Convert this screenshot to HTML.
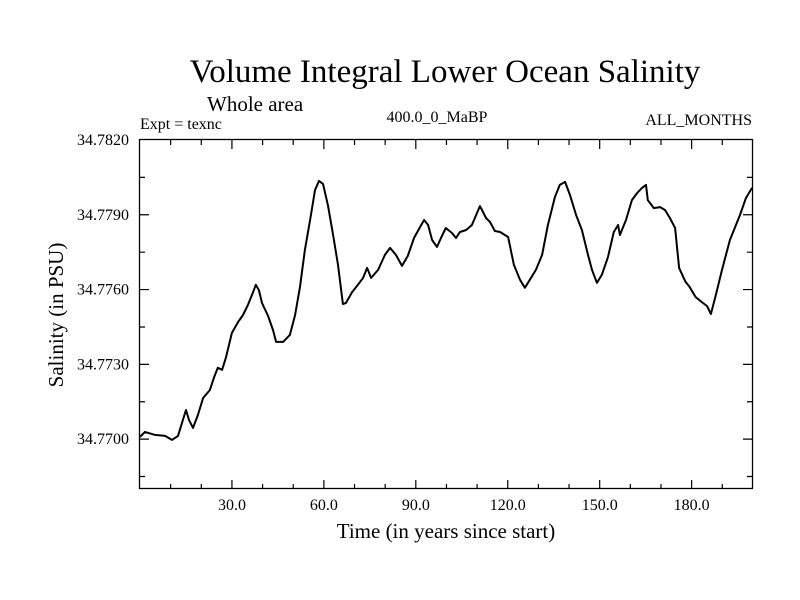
<!DOCTYPE html>
<html><head><meta charset="utf-8"><style>
body{margin:0;background:#fff}
svg{display:block;font-family:"Liberation Serif",serif}
</style></head><body>
<svg id="chart" width="800" height="600" viewBox="0 0 800 600">
<rect width="800" height="600" fill="#fff"/>
<text x="445" y="82" font-size="33" text-anchor="middle">Volume Integral Lower Ocean Salinity</text>
<text x="207" y="111" font-size="21">Whole area</text>
<text x="140" y="129" font-size="16">Expt = texnc</text>
<text x="437" y="122" font-size="16" text-anchor="middle">400.0_0_MaBP</text>
<text x="752" y="125" font-size="16" text-anchor="end">ALL_MONTHS</text>
<text x="446" y="538" font-size="21" text-anchor="middle">Time (in years since start)</text>
<text x="0" y="0" font-size="21" text-anchor="middle" transform="translate(63,315) rotate(-90)">Salinity (in PSU)</text>
<g id="ticks"></g>
<g id="labels"></g>
<rect x="139.5" y="139.5" width="613" height="349" fill="none" stroke="#000" stroke-width="1.3"/>
<path id="line" fill="none" stroke="#000" stroke-width="2" stroke-linejoin="round"/>
</svg>
<script>
const years=[0,1.6,4.9,8.2,10.4,12.4,14.0,15.0,16.0,17.3,18.9,20.6,22.8,24.1,25.4,26.8,28.1,30.0,32.0,33.6,35.2,36.9,37.8,38.8,39.8,41.8,43.4,44.4,46.7,48.9,50.6,52.2,53.8,55.5,57.1,58.4,59.7,61.3,63.0,64.6,66.2,67.2,69.2,71.1,72.8,74.1,75.4,77.7,79.9,81.6,83.5,85.5,87.4,89.4,91.4,92.7,94.0,95.3,96.9,98.5,99.8,101.8,103.1,104.4,106.4,108.3,110.9,111.6,112.9,114.2,115.8,117.5,120.1,122.0,124.0,125.6,127.2,129.2,131.2,133.1,135.4,137.0,138.7,140.3,142.3,144.2,146.2,147.5,149.1,150.7,152.7,154.6,156.0,156.6,158.6,160.5,162.2,163.8,165.1,165.7,167.7,169.7,171.3,172.9,174.6,175.9,178.0,179.3,181.3,183.3,185.0,186.3,187.9,189.9,192.5,195.8,197.7,199.7];
const salinity=[34.77009,34.77029,34.77017,34.77013,34.76997,34.77013,34.77077,34.77117,34.77077,34.77045,34.77097,34.77165,34.77197,34.77246,34.77286,34.77278,34.7733,34.77426,34.7747,34.77498,34.77538,34.7759,34.77619,34.77598,34.77546,34.77494,34.77438,34.7739,34.7739,34.77418,34.77498,34.77611,34.77759,34.77879,34.77999,34.78036,34.78024,34.77939,34.77819,34.77699,34.77542,34.77546,34.7759,34.77619,34.77647,34.77687,34.77647,34.77679,34.77739,34.77767,34.77739,34.77695,34.77735,34.77807,34.77851,34.77879,34.77859,34.77799,34.77771,34.77815,34.77847,34.77827,34.77807,34.77831,34.77839,34.77859,34.77935,34.77919,34.77887,34.77871,34.77835,34.77831,34.77811,34.77699,34.77639,34.77607,34.77639,34.77679,34.77739,34.77859,34.77971,34.7802,34.78032,34.77979,34.77899,34.77839,34.77739,34.77679,34.77627,34.77659,34.77731,34.77831,34.77859,34.77819,34.77879,34.77959,34.77987,34.78008,34.7802,34.77959,34.77927,34.77931,34.77919,34.77887,34.77847,34.77687,34.77631,34.77611,34.7757,34.7755,34.77534,34.77502,34.77578,34.77679,34.77799,34.77899,34.77967,34.78008];
const xTickLabels=["30.0","60.0","90.0","120.0","150.0","180.0"];
const xTickValues=[30,60,90,120,150,180];
const yTickLabels=["34.7700","34.7730","34.7760","34.7790","34.7820"];
const yTickValues=[34.770,34.773,34.776,34.779,34.782];
const X0=140,X1=752,Y0=489,Y1=140,XMIN=0,XMAX=199.7,YMIN=34.768,YMAX=34.782;
const sx=v=>X0+(v-XMIN)/(XMAX-XMIN)*(X1-X0);
const sy=v=>Y0-(v-YMIN)/(YMAX-YMIN)*(Y0-Y1);
const NS="http://www.w3.org/2000/svg";
const tg=document.getElementById('ticks'),lg=document.getElementById('labels');
let d="";
function seg(x1,y1,x2,y2){d+=`M${x1},${y1}L${x2},${y2}`;}
for(let t=10;t<200;t+=10){const x=sx(t),L=(t%30===0)?9:5;seg(x,Y0,x,Y0-L);seg(x,Y1,x,Y1+L);}
for(let k=-1;k<=7;k++){const v=34.770+k*0.0015;if(v>YMAX-1e-6||v<YMIN+1e-6)continue;const y=sy(v),major=(k%2===0);const L=major?9:5;seg(X0,y,X0+L,y);seg(X1,y,X1-L,y);}
const tp=document.createElementNS(NS,'path');tp.setAttribute('d',d);tp.setAttribute('stroke','#000');tp.setAttribute('stroke-width','1.2');


tg.appendChild(tp);
xTickValues.forEach((v,i)=>{const t=document.createElementNS(NS,'text');t.setAttribute('x',sx(v));t.setAttribute('y',510);t.setAttribute('font-size','16');t.setAttribute('text-anchor','middle');t.textContent=xTickLabels[i];


lg.appendChild(t);});
yTickValues.forEach((v,i)=>{const t=document.createElementNS(NS,'text');t.setAttribute('x',129);t.setAttribute('y',sy(v)+5);t.setAttribute('font-size','16');t.setAttribute('text-anchor','end');t.textContent=yTickLabels[i];


lg.appendChild(t);});
document.getElementById('line').setAttribute('d',years.map((y,i)=>(i?'L':'M')+sx(y).toFixed(1)+','+sy(salinity[i]).toFixed(1)).join(''));
</script>
</body></html>
